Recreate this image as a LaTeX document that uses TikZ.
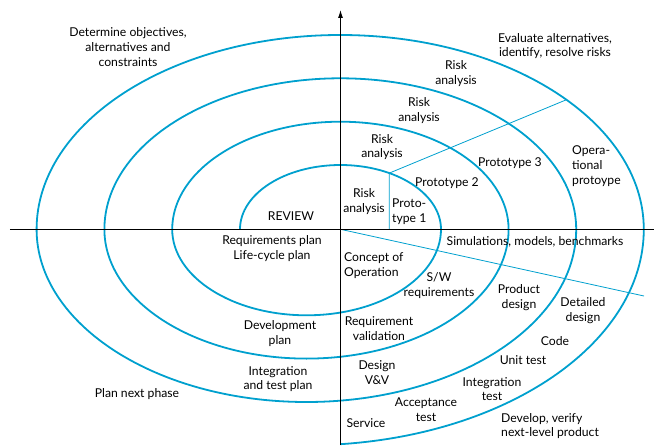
\documentclass[tikz,border=0pt]{standalone}
\usepackage{fontspec}
\setmainfont{Lato}
\usetikzlibrary{arrows.meta}
\definecolor{spiralblue}{RGB}{0,160,206}

\begin{document}
\begin{tikzpicture}[x=1pt, y=1pt,
  lbl/.style={align=center, inner sep=0pt, font=\fontsize{12.2}{14.8}\selectfont},
  lblleft/.style={lbl, align=left, anchor=west},
  spiral/.style={spiralblue, line width=1.8pt},
  guide/.style={spiralblue, line width=0.8pt},
  axis/.style={line width=0.9pt}]
\useasboundingbox (-340.5,-215.7) rectangle (313.5,229.3);

\coordinate (origin) at (0,0);
\coordinate (axleft) at (-330.5,0);
\coordinate (axright) at (313.5,0);
\coordinate (axbottom) at (0,-215.7);
\coordinate (axtop) at (0,219.3);
\coordinate (spiralstart) at (-100.5,0);
\coordinate (protobase) at (48.8,0);
\coordinate (prototop) at (48.8,56.2);
\coordinate (opend) at (226,129.6);
\coordinate (simend) at (303.5,-66.7);

\draw[spiral] (spiralstart)
  arc[start angle=180, end angle=0, x radius=100.5, y radius=64.3]
  arc[start angle=0, end angle=-180, x radius=134.4, y radius=86]
  arc[start angle=180, end angle=0, x radius=168.2, y radius=107.6]
  arc[start angle=0, end angle=-180, x radius=202.1, y radius=129.3]
  arc[start angle=180, end angle=0, x radius=235.9, y radius=151]
  arc[start angle=0, end angle=-180, x radius=269.8, y radius=172.7]
  arc[start angle=180, end angle=0, x radius=303.6, y radius=194.3]
  arc[start angle=0, end angle=-84.2, x radius=337.5, y radius=216];

\draw[guide] (protobase) -- (prototop) -- (opend);
\draw[guide] (origin) -- (simend);

\draw[axis] (axleft) -- (axright);
\draw[axis, -{Latex[length=8pt,width=5pt]}] (axbottom) -- (axtop);

\node[lbl] (determine) at (-212.5,182.3) {Determine objectives,\\alternatives and\\constraints};
\node[lbl] (evaluate) at (214.5,183.3) {Evaluate alternatives,\\identify, resolve risks};
\node[lbl] (risk4) at (115.5,155.8) {Risk\\analysis};
\node[lbl] (risk3) at (78.5,118.8) {Risk\\analysis};
\node[lbl] (risk2) at (41.5,82.3) {Risk\\analysis};
\node[lbl] (risk1) at (23.5,27.8) {Risk\\analysis};
\node[lblleft] (proto1) at (51.5,17.3) {Proto-\\type 1};
\node[lbl] (proto2) at (106.5,46.3) {Prototype 2};
\node[lbl] (proto3) at (169.5,66.3) {Prototype 3};
\node[lblleft] (opproto) at (231.5,63.3) {Opera-\\tional\\protoype};
\node[lbl] (review) at (-49.5,13.3) {REVIEW};
\node[lbl] (reqplan) at (-68.5,-19.2) {Requirements plan\\Life-cycle plan};
\node[lbl] (devplan) at (-60.5,-104.2) {Development\\plan};
\node[lbl] (intplan) at (-62.5,-149.7) {Integration\\and test plan};
\node[lbl] (nextphase) at (-203.5,-164.7) {Plan next phase};
\node[lbl] (sims) at (194.5,-12.7) {Simulations, models, benchmarks};
\node[lblleft] (concept) at (3.5,-36.7) {Concept of\\Operation};
\node[lbl] (swreq) at (98.5,-56.2) {S/W\\requirements};
\node[lbl] (proddesign) at (178.5,-68.7) {Product\\design};
\node[lbl] (detdesign) at (242.5,-81.2) {Detailed\\design};
\node[lbl] (reqval) at (38.5,-99.2) {Requirement\\validation};
\node[lbl] (code) at (214.5,-111.7) {Code};
\node[lbl] (unittest) at (182.5,-130.7) {Unit test};
\node[lbl] (designvv) at (36.5,-143.2) {Design\\V\&V};
\node[lbl] (inttest) at (151.5,-159.7) {Integration\\test};
\node[lbl] (acctest) at (85.5,-180.2) {Acceptance\\test};
\node[lbl] (service) at (25.5,-193.7) {Service};
\node[lblleft] (develop) at (160.5,-196.7) {Develop, verify\\next-level product};
\end{tikzpicture}
\end{document}
